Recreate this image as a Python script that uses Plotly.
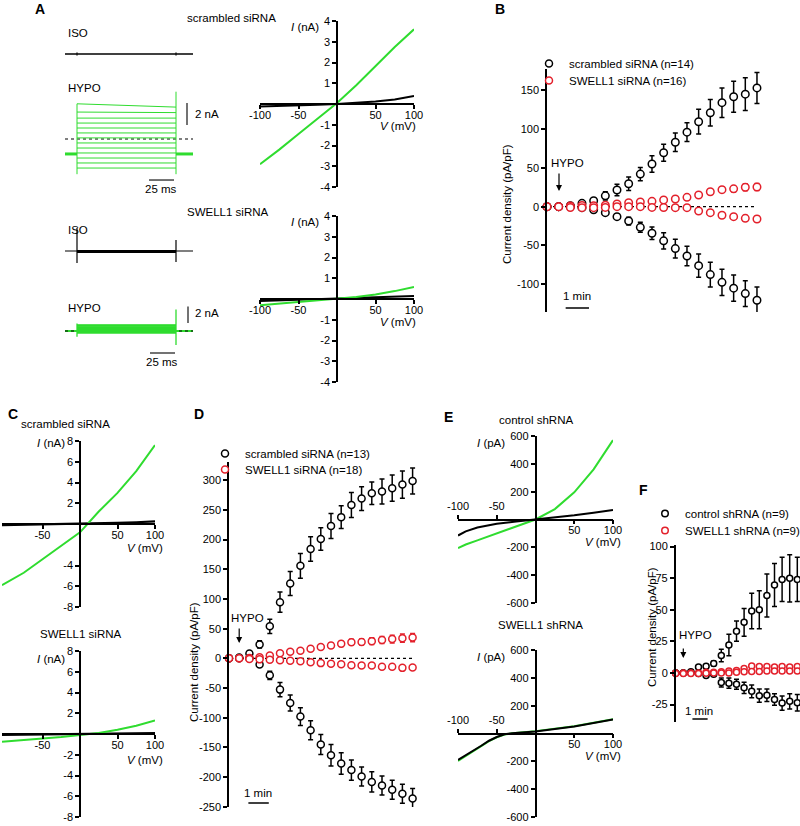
import plotly.graph_objects as go

W, H = 800, 826
FONT = "Arial, Liberation Sans, sans-serif"
GREEN = "#2fdc2f"
RED = "#e3202b"
BLACK = "black"

# ---------------- Panel A: current traces (ms, nA) ----------------
A_PRE_T = [-12, 0]
A_STEP_T = [0, 99]
A_POST_T = [99, 116]
A_SCR_HYPO_START = [3.2, 2.45, 1.9, 1.45, 1.0, 0.55, 0.1, -0.36, -0.82, -1.27, -1.73, -2.18, -2.64]
A_SCR_HYPO_END = [2.9, 2.4, 1.9, 1.45, 1.0, 0.55, 0.1, -0.36, -0.82, -1.27, -1.73, -2.18, -2.64]
A_SCR_HYPO_HOLD = -1.36
A_SCR_HYPO_ON = [3.2, -3.2]
A_SCR_HYPO_OFF = [4.3, -3.2]
A_SCR_ISO_ON = [0.15, -0.15]
A_SCR_ISO_OFF = [0.15, -0.15]
A_SW_ISO_STEP = -0.05
A_SW_ISO_ON = [2.1, -1.1]
A_SW_ISO_OFF = [1.0, -1.0]
A_SW_HYPO_LEVELS = [0.75, 0.67, 0.58, 0.5, 0.42, 0.33, 0.25, 0.17, 0.08, 0.0, -0.08, -0.17, -0.25]
A_SW_HYPO_ON = [0.9, -0.7]
A_SW_HYPO_OFF = [2.6, -1.7]
SCALE_NA = 2
SCALE_MS = 25

# ---------------- Panel A: I-V (mV, nA) ----------------
A_V = [-100, -75, -50, -25, 0, 25, 50, 75, 100]
A_SCR_ISO_I = [-0.12, -0.1, -0.08, -0.04, 0.0, 0.05, 0.12, 0.22, 0.38]
A_SCR_HYPO_I = [-2.9, -2.2, -1.45, -0.7, 0.05, 0.9, 1.85, 2.75, 3.6]
A_SW_ISO_I = [-0.1, -0.07, -0.05, -0.02, 0.0, 0.03, 0.06, 0.1, 0.15]
A_SW_HYPO_I = [-0.3, -0.22, -0.15, -0.07, 0.0, 0.1, 0.22, 0.38, 0.58]
A_IV_XTICKS = [-100, -50, 50, 100]
A_IV_YTICKS = [-4, -3, -2, -1, 1, 2, 3, 4]

# ---------------- Panel B: time course (min, pA/pF) ----------------
B_TIME = [0, 0.5, 1, 1.5, 2, 2.5, 3, 3.5, 4, 4.5, 5, 5.5, 6, 6.5, 7, 7.5, 8, 8.5, 9]
B_SCR_POS = [0, 0, 1.3, 4.3, 7.7, 14, 21.5, 29.6, 42, 55, 69.5, 83, 96, 109.5, 121, 134, 141.6, 145, 153]
B_SCR_POS_ERR = [0.5, 0.5, 1, 2, 3, 5.4, 7.5, 8.6, 8.6, 10.7, 11, 12, 12, 16, 17, 19, 20, 21, 20]
B_SCR_NEG = [0, 0, 0, -1.3, -4, -7.7, -12.9, -18.5, -26.6, -34.3, -44, -54, -63.5, -76, -87.5, -97.5, -105, -112, -120.6]
B_SCR_NEG_ERR = [0.5, 0.5, 0.5, 1, 1.5, 2, 3, 5, 6.5, 8, 10.5, 12, 12.5, 15, 16, 17, 17, 16.5, 17]
B_SW_POS = [0, 0, 1, 1.5, 1.3, 2, 3.4, 5, 6, 6.9, 8.6, 9.9, 12, 15, 19.3, 21.9, 23, 25, 25.3]
B_SW_POS_ERR = [0.5, 0.5, 0.5, 0.5, 0.8, 1, 1, 1.2, 1.5, 1.5, 1.8, 2, 2, 2.5, 3, 3.5, 4, 4.5, 4.5]
B_SW_NEG = [0, 0, -1, -1.3, -1.3, -0.9, 0, 0, 0, -0.9, -1, -1.3, -1.3, -5.6, -7.7, -11, -12.9, -15, -15.9]
B_SW_NEG_ERR = [0.5, 0.5, 0.5, 0.5, 0.5, 0.5, 0.5, 0.5, 0.8, 0.8, 1, 1, 1, 1.5, 2, 2.5, 3, 3.5, 3.5]
B_YTICKS = [-100, -50, 0, 50, 100, 150]

# ---------------- Panel C: I-V (mV, nA) ----------------
C_V = [-104, -75, -50, -25, 0, 25, 50, 75, 100]
C_SCR_ISO_I = [-0.1, -0.07, -0.05, -0.02, 0.0, 0.05, 0.1, 0.17, 0.25]
C_SCR_HYPO_I = [-5.9, -4.7, -3.4, -2.1, -0.8, 1.2, 3.0, 5.1, 7.6]
C_SW_ISO_I = [-0.08, -0.05, -0.03, -0.01, 0.0, 0.02, 0.04, 0.06, 0.08]
C_SW_HYPO_I = [-0.75, -0.6, -0.45, -0.3, -0.1, 0.1, 0.4, 0.8, 1.3]
C_XTICKS = [-50, 50, 100]
C_TOP_YTICKS = [-8, -6, -4, 2, 4, 6, 8]
C_BOT_YTICKS = [-8, -6, -4, -2, 2, 4, 6, 8]

# ---------------- Panel D: time course ----------------
D_TIME = [0, 0.5, 1, 1.5, 2, 2.5, 3, 3.5, 4, 4.5, 5, 5.5, 6, 6.5, 7, 7.5, 8, 8.5, 9]
D_SCR_POS = [0, 1.6, 8, 23.5, 54, 94.5, 126, 155.7, 184, 201, 222.7, 237.7, 258, 269, 278, 281, 286.5, 292.5, 298.5]
D_SCR_POS_ERR = [0.5, 1, 2, 6, 12, 17, 20, 21, 20.5, 19, 21, 19, 21, 20, 19, 21, 22, 23, 22]
D_SCR_NEG = [0, 0, 0, -10.5, -28.6, -52.6, -75, -98, -121, -145, -163, -177, -188, -199, -208, -214, -221, -228, -236]
D_SCR_NEG_ERR = [0.5, 0.5, 0.5, 3, 7, 12, 13.5, 15, 16, 17, 18, 18, 17, 16, 17, 16, 16, 16, 17]
D_SW_POS = [0, 0, 0.5, 2, 5, 8.5, 11, 13, 16, 19, 21.7, 24.5, 27, 27.5, 29, 31, 32.5, 34, 35]
D_SW_POS_ERR = [0.5, 0.5, 0.5, 1, 1.5, 2, 2, 2.5, 3, 3.5, 4, 4.5, 5, 5, 5.5, 6, 6.5, 7, 7]
D_SW_NEG = [0, 0, -1, -1.7, -2.3, -3, -4, -5, -6.4, -8, -9, -10, -11.5, -12, -12, -14, -14, -16, -15.5]
D_SW_NEG_ERR = [0.5, 0.5, 0.5, 0.5, 0.5, 0.8, 1, 1, 1, 1, 1.2, 1.2, 1.5, 1.5, 1.5, 2, 2, 2, 2]
D_YTICKS = [-250, -200, -150, -100, -50, 0, 50, 100, 150, 200, 250, 300]

# ---------------- Panel E: I-V (mV, pA) ----------------
E_V = [-100, -90, -75, -50, -25, 0, 25, 50, 75, 100]
E_CTRL_ISO_I = [-115, -85, -58, -31, -14, 0, 15, 30, 48, 68]
E_CTRL_HYPO_I = [-205, -180, -150, -100, -48, 0, 75, 195, 360, 570]
E_V2 = [-100, -90, -80, -70, -60, -50, -40, -30, 0, 50, 100]
E_SW_ISO_I = [-190, -158, -122, -88, -52, -25, -6, 2, 15, 50, 100]
E_SW_HYPO_I = [-197, -162, -126, -92, -55, -27, -7, 1, 17, 52, 103]
E_XTICKS_BELOW = [50, 100]
E_XTICKS_ABOVE = [-100, -50]
E_YTICKS = [-600, -400, -200, 200, 400, 600]

# ---------------- Panel F: time course ----------------
F_TIME = [0, 0.5, 1, 1.5, 2, 2.5, 3, 3.5, 4, 4.5, 5, 5.5, 6, 6.5, 7, 7.5, 8]
F_CTRL_POS = [0, 0, 1, 4.7, 5.2, 7.5, 13.8, 22, 33, 40, 49, 50, 61.3, 69.6, 74, 74.8, 74]
F_CTRL_POS_ERR = [0.5, 0.5, 0.8, 1.5, 1.5, 2, 5, 8.5, 8, 11, 14, 15, 17, 17, 17.5, 18.7, 17.5]
F_CTRL_NEG = [0, 0, 0, -0.5, -2, -1, -7.6, -8.1, -9, -11.8, -14.6, -18, -17.7, -21, -23.9, -22.5, -23.6]
F_CTRL_NEG_ERR = [0.5, 0.5, 0.5, 0.8, 1, 1, 3.5, 4, 4, 4.5, 5, 5.3, 5, 4.6, 5.6, 6, 6.5]
F_SW_POS = [0, 0, 0, 0, 0.5, 0.5, 1, 1.5, 2, 3.4, 5.5, 5, 5, 4.7, 5, 4.7, 5]
F_SW_POS_ERR = [0.3, 0.3, 0.3, 0.3, 0.4, 0.4, 0.5, 0.6, 0.8, 1, 1.2, 1.2, 1.3, 1.3, 1.4, 1.4, 1.5]
F_SW_NEG = [-0.5, -0.5, -0.5, -0.5, -0.3, 0, 0, 0, 0.5, 1, 1.2, 1.2, 1.5, 1.5, 1.5, 1.5, 1.5]
F_SW_NEG_ERR = [0.3, 0.3, 0.3, 0.3, 0.3, 0.3, 0.4, 0.4, 0.5, 0.5, 0.6, 0.6, 0.6, 0.7, 0.7, 0.7, 0.8]
F_YTICKS = [-25, 0, 25, 50, 75, 100]

SCALE_MIN = 1

# ======================================================================
fig = go.Figure()
L = dict(width=W, height=H, margin=dict(l=0, r=0, t=0, b=0, pad=0, autoexpand=False),
         paper_bgcolor="white", plot_bgcolor="rgba(0,0,0,0)", showlegend=True,
         font=dict(family=FONT, size=11, color="black"))
ANN = []
SHP = []


def dx(l, r):
    return [l / W, r / W]


def dy(t, b):
    return [1 - b / H, 1 - t / H]


AX = dict(showgrid=False, zeroline=False, showline=True, linecolor="black", linewidth=1.5,
          ticks="outside", ticklen=4, tickwidth=1.5, tickcolor="black", automargin=False,
          tickfont=dict(family=FONT, size=11, color="black"), fixedrange=True)


def labels(vals):
    return [str(v) for v in vals]


def iv_axes(n, left, right, top, bottom, xr, yr, xt, yt, extra=None, xt_extra=None):
    zy = top + yr[1] / (yr[1] - yr[0]) * (bottom - top)
    zx = left + (-xr[0]) / (xr[1] - xr[0]) * (right - left)
    L[f"xaxis{n}"] = dict(AX, domain=dx(left, right), range=xr, anchor="free",
                          position=1 - zy / H, tickvals=xt, ticktext=labels(xt), side="bottom",
                          ticklabelstandoff=-3)
    L[f"yaxis{n}"] = dict(AX, domain=dy(top, bottom), range=yr, anchor="free",
                          position=zx / W, tickvals=yt, ticktext=labels(yt), side="left")
    if extra is not None:
        L[f"xaxis{extra}"] = dict(AX, domain=dx(left, right), range=xr, anchor="free",
                                  position=1 - zy / H, tickvals=xt_extra,
                                  ticktext=labels(xt_extra), side="top", overlaying=f"x{n}")


def tc_axes(n, left, right, top, bottom, ppm, yr, yt):
    L[f"xaxis{n}"] = dict(domain=dx(left, right), range=[0, (right - left) / ppm],
                          visible=False, anchor=f"y{n}", fixedrange=True)
    L[f"yaxis{n}"] = dict(AX, domain=dy(top, bottom), range=yr, anchor=f"x{n}",
                          tickvals=yt, ticktext=labels(yt))


def yr_from(zero_px, top_px, bot_px, ppu):
    return [-(bot_px - zero_px) / ppu, (zero_px - top_px) / ppu]


def hid_axes(n, left, right, top, bottom, xr, yr):
    L[f"xaxis{n}"] = dict(domain=dx(left, right), range=xr, visible=False, anchor=f"y{n}", fixedrange=True)
    L[f"yaxis{n}"] = dict(domain=dy(top, bottom), range=yr, visible=False, anchor=f"x{n}", fixedrange=True)


def text(px, py, s, size=11.5, xanchor="center", bold=False, angle=0):
    if bold:
        s = f"<b>{s}</b>"
    ANN.append(dict(x=px / W, y=1 - py / H, xref="paper", yref="paper", text=s, showarrow=False,
                    xanchor=xanchor, yanchor="middle", textangle=angle,
                    font=dict(family=FONT, size=size, color="black")))


def arrow(px, tip_py, tail_py):
    ANN.append(dict(x=px / W, y=1 - tip_py / H, xref="paper", yref="paper", text="",
                    showarrow=True, ax=0, ay=tail_py - tip_py, arrowhead=2, arrowsize=1,
                    arrowwidth=1.2, arrowcolor="black"))


def line(n, xs, ys, color, width, dash=None, xa=None):
    fig.add_trace(go.Scatter(x=xs, y=ys, xaxis=xa or f"x{n}", yaxis=f"y{n}", mode="lines",
                             line=dict(color=color, width=width, dash=dash),
                             showlegend=False, hoverinfo="skip"))


def pts(n, t, y, err, color, size):
    fig.add_trace(go.Scatter(x=t, y=y, xaxis=f"x{n}", yaxis=f"y{n}", mode="markers",
                             marker=dict(symbol="circle", size=size, color="white",
                                         line=dict(color=color, width=1.5)),
                             error_y=dict(type="data", array=err, color=color, thickness=1.5, width=2.5),
                             showlegend=False, cliponaxis=False))


LEG = dict(xanchor="left", yanchor="top", bgcolor="rgba(0,0,0,0)", itemwidth=30,
           tracegroupgap=0, font=dict(family=FONT, size=11.5, color="black"))
LEG_IDX = [0]


def legend_item(n, color, name, size, text_x, row_y):
    LEG_IDX[0] += 1
    key = "legend" if LEG_IDX[0] == 1 else f"legend{LEG_IDX[0]}"
    L[key] = dict(LEG, x=(text_x - 40) / W, y=1 - (row_y - 14) / H)
    fig.add_trace(go.Scatter(x=[None], y=[None], xaxis=f"x{n}", yaxis=f"y{n}", mode="markers",
                             marker=dict(symbol="circle", size=size, color="white",
                                         line=dict(color=color, width=1.5)),
                             name=name, legend=key, showlegend=True))


# ---------------- Panel A traces ----------------
A_XR = [-13, 119]
hid_axes(1, 64, 196, 40, 70, A_XR, yr_from(54, 40, 70, 11))
hid_axes(2, 64, 196, 85, 196, A_XR, yr_from(139, 85, 196, 11))
hid_axes(3, 64, 196, 222, 270, A_XR, yr_from(251, 222, 270, 11))
hid_axes(4, 64, 196, 296, 368, A_XR, yr_from(331, 296, 368, 8.3))

# scrambled ISO
line(1, [A_PRE_T[0], A_POST_T[1]], [0, 0], BLACK, 1.3)
line(1, [A_STEP_T[0], A_STEP_T[0], None, A_STEP_T[1], A_STEP_T[1]],
     [A_SCR_ISO_ON[0], A_SCR_ISO_ON[1], None, A_SCR_ISO_OFF[0], A_SCR_ISO_OFF[1]], BLACK, 1)

# scrambled HYPO
line(2, [A_PRE_T[0], A_POST_T[1]], [0, 0], BLACK, 1.2, "dot")
xs, ys = [], []
for s, e in zip(A_SCR_HYPO_START, A_SCR_HYPO_END):
    xs += [A_STEP_T[0], A_STEP_T[1], None]
    ys += [s, e, None]
xs += [A_STEP_T[0], A_STEP_T[0], None, A_STEP_T[1], A_STEP_T[1]]
ys += [A_SCR_HYPO_ON[0], A_SCR_HYPO_ON[1], None, A_SCR_HYPO_OFF[0], A_SCR_HYPO_OFF[1]]
line(2, xs, ys, GREEN, 1)
line(2, A_PRE_T + [None] + A_POST_T, [A_SCR_HYPO_HOLD] * 2 + [None] + [A_SCR_HYPO_HOLD] * 2, GREEN, 3)

# SWELL1 ISO
line(3, [A_PRE_T[0], A_POST_T[1]], [0, 0], BLACK, 1.2)
line(3, A_STEP_T, [A_SW_ISO_STEP] * 2, BLACK, 3)
line(3, [A_STEP_T[0], A_STEP_T[0], None, A_STEP_T[1], A_STEP_T[1]],
     [A_SW_ISO_ON[0], A_SW_ISO_ON[1], None, A_SW_ISO_OFF[0], A_SW_ISO_OFF[1]], BLACK, 1.2)

# SWELL1 HYPO
line(4, A_PRE_T + [None] + A_POST_T, [0, 0, None, 0, 0], GREEN, 2)
line(4, [A_PRE_T[0], A_POST_T[1]], [0, 0], BLACK, 1.2, "dot")
xs, ys = [], []
for lv in A_SW_HYPO_LEVELS:
    xs += [A_STEP_T[0], A_STEP_T[1], None]
    ys += [lv, lv, None]
xs += [A_STEP_T[0], A_STEP_T[0], None, A_STEP_T[1], A_STEP_T[1]]
ys += [A_SW_HYPO_ON[0], A_SW_HYPO_ON[1], None, A_SW_HYPO_OFF[0], A_SW_HYPO_OFF[1]]
line(4, xs, ys, GREEN, 1.3)

# scale bars (nA / ms)
for n, tx, y0, tb, yb in [(2, 110, 1.27, 72, -3.73), (4, 111, 0.96, 73, -2.65)]:
    SHP.append(dict(type="line", xref=f"x{n}", yref=f"y{n}", x0=tx, x1=tx, y0=y0, y1=y0 + SCALE_NA,
                    line=dict(color="#444", width=1.5)))
    SHP.append(dict(type="line", xref=f"x{n}", yref=f"y{n}", x0=tb, x1=tb + SCALE_MS, y0=yb, y1=yb,
                    line=dict(color="#444", width=1.5)))

text(40, 9, "A", 14, bold=True)
text(232, 18, "scrambled siRNA")
text(66, 33, "ISO", xanchor="left")
text(66, 88, "HYPO", xanchor="left")
text(193, 114, f"{SCALE_NA} nA", xanchor="left")
text(161, 189, f"{SCALE_MS} ms")
text(228, 212, "SWELL1 siRNA")
text(66, 230, "ISO", xanchor="left")
text(66, 308, "HYPO", xanchor="left")
text(193, 313, f"{SCALE_NA} nA", xanchor="left")
text(162, 362, f"{SCALE_MS} ms")

# ---------------- Panel A I-V ----------------
iv_axes(5, 260, 414, 21, 187, [-100, 100], [-4, 4], A_IV_XTICKS, A_IV_YTICKS)
iv_axes(6, 260, 414, 216, 382, [-100, 100], [-4, 4], A_IV_XTICKS, A_IV_YTICKS)
line(5, A_V, A_SCR_ISO_I, BLACK, 2)
line(5, A_V, A_SCR_HYPO_I, GREEN, 2)
line(6, A_V, A_SW_ISO_I, BLACK, 2)
line(6, A_V, A_SW_HYPO_I, GREEN, 2)
text(321, 27, "<i>I</i> (nA)", xanchor="right")
text(418, 126, "<i>V</i> (mV)", xanchor="right")
text(321, 222, "<i>I</i> (nA)", xanchor="right")
text(418, 322, "<i>V</i> (mV)", xanchor="right")

# ---------------- Panel B ----------------
tc_axes(7, 547, 775, 69, 312, 23.33, [-135.7, 177.4], B_YTICKS)
line(7, [B_TIME[0], B_TIME[-1]], [0, 0], BLACK, 1.2, "dot")
pts(7, B_TIME, B_SCR_POS, B_SCR_POS_ERR, BLACK, 7.5)
pts(7, B_TIME, B_SCR_NEG, B_SCR_NEG_ERR, BLACK, 7.5)
pts(7, B_TIME, B_SW_POS, B_SW_POS_ERR, RED, 7.5)
pts(7, B_TIME, B_SW_NEG, B_SW_NEG_ERR, RED, 7.5)
legend_item(7, BLACK, "scrambled siRNA (n=14)", 7, 569, 63)
legend_item(7, RED, "SWELL1 siRNA (n=16)", 7, 569, 80)
SHP.append(dict(type="line", xref="x7", yref="paper", x0=0.8, x1=0.8 + SCALE_MIN,
                y0=1 - 308 / H, y1=1 - 308 / H, line=dict(color="black", width=1.5)))
text(500, 9, "B", 14, bold=True)
text(507, 204, "Current density (pA/pF)", angle=-90)
text(567, 163, "HYPO")
arrow(559, 191, 172)
text(577, 296, "1 min")

# ---------------- Panel C ----------------
iv_axes(8, 2, 155, 441, 607, [-104, 100], [-8, 8], C_XTICKS, C_TOP_YTICKS)
iv_axes(9, 2, 155, 651, 817, [-104, 100], [-8, 8], C_XTICKS, C_BOT_YTICKS)
line(8, C_V, C_SCR_ISO_I, BLACK, 2.2)
line(8, C_V, C_SCR_HYPO_I, GREEN, 2)
line(9, C_V, C_SW_ISO_I, BLACK, 2.2)
line(9, C_V, C_SW_HYPO_I, GREEN, 2)
text(6, 414, "C", 14, bold=True, xanchor="left")
text(65, 424, "scrambled siRNA")
text(51, 443, "<i>I</i> (nA)")
text(145, 548, "<i>V</i> (mV)")
text(80, 634, "SWELL1 siRNA")
text(51, 659, "<i>I</i> (nA)")
text(145, 760, "<i>V</i> (mV)")

# ---------------- Panel D ----------------
tc_axes(10, 229, 425, 461.7, 806.9, 20.4, [-250, 331], D_YTICKS)
line(10, [D_TIME[0], D_TIME[-1]], [0, 0], BLACK, 1.2, "dot")
pts(10, D_TIME, D_SCR_POS, D_SCR_POS_ERR, BLACK, 7)
pts(10, D_TIME, D_SCR_NEG, D_SCR_NEG_ERR, BLACK, 7)
pts(10, D_TIME, D_SW_POS, D_SW_POS_ERR, RED, 7)
pts(10, D_TIME, D_SW_NEG, D_SW_NEG_ERR, RED, 7)
legend_item(10, BLACK, "scrambled siRNA (n=13)", 7, 245, 453)
legend_item(10, RED, "SWELL1 siRNA (n=18)", 7, 245, 469)
SHP.append(dict(type="line", xref="x10", yref="paper", x0=0.95, x1=0.95 + SCALE_MIN,
                y0=1 - 803 / H, y1=1 - 803 / H, line=dict(color="black", width=1.5)))
text(192, 414, "D", 14, bold=True, xanchor="left")
text(194, 662, "Current density (pA/pF)", angle=-90)
text(247, 618, "HYPO")
arrow(239.2, 643, 627)
text(258, 793, "1 min")

# ---------------- Panel E ----------------
iv_axes(11, 458, 613, 436, 603, [-100, 100], [-600, 600], E_XTICKS_BELOW, E_YTICKS, 12, E_XTICKS_ABOVE)
iv_axes(13, 458, 613, 650, 817, [-100, 100], [-600, 600], E_XTICKS_BELOW, E_YTICKS, 14, E_XTICKS_ABOVE)
line(11, E_V, E_CTRL_ISO_I, BLACK, 2, xa="x12")
line(11, E_V, E_CTRL_HYPO_I, GREEN, 2)
line(13, E_V2, E_SW_ISO_I, BLACK, 2, xa="x14")
line(13, E_V2, E_SW_HYPO_I, GREEN, 2)
text(448, 417, "E", 14, bold=True)
text(536, 420, "control shRNA")
text(507, 443, "<i>I</i> (pA)", xanchor="right")
text(603, 542, "<i>V</i> (mV)")
text(540, 625, "SWELL1 shRNA")
text(507, 657, "<i>I</i> (pA)", xanchor="right")
text(603, 756, "<i>V</i> (mV)")

# ---------------- Panel F ----------------
tc_axes(15, 675.7, 800, 545, 721.7, 15.2, [-38.6, 101.2], F_YTICKS)
pts(15, F_TIME, F_CTRL_POS, F_CTRL_POS_ERR, BLACK, 6)
pts(15, F_TIME, F_CTRL_NEG, F_CTRL_NEG_ERR, BLACK, 6)
pts(15, F_TIME, F_SW_POS, F_SW_POS_ERR, RED, 6)
pts(15, F_TIME, F_SW_NEG, F_SW_NEG_ERR, RED, 6)
legend_item(15, BLACK, "control shRNA (n=9)", 6.5, 685, 513)
legend_item(15, RED, "SWELL1 shRNA (n=9)", 6.5, 685, 530)
SHP.append(dict(type="line", xref="x15", yref="paper", x0=1.1, x1=1.1 + SCALE_MIN,
                y0=1 - 719 / H, y1=1 - 719 / H, line=dict(color="black", width=1.5)))
text(643, 490, "F", 14, bold=True)
text(652, 627, "Current density (pA/pF)", angle=-90)
text(695, 635, "HYPO")
arrow(683.3, 658, 647)
text(699, 711, "1 min")

L["annotations"] = ANN
L["shapes"] = SHP
fig.update_layout(**L)
fig.write_html("out.html", config={"displayModeBar": False},
               post_script="document.body.style.margin='0px';document.body.style.padding='0px';")
